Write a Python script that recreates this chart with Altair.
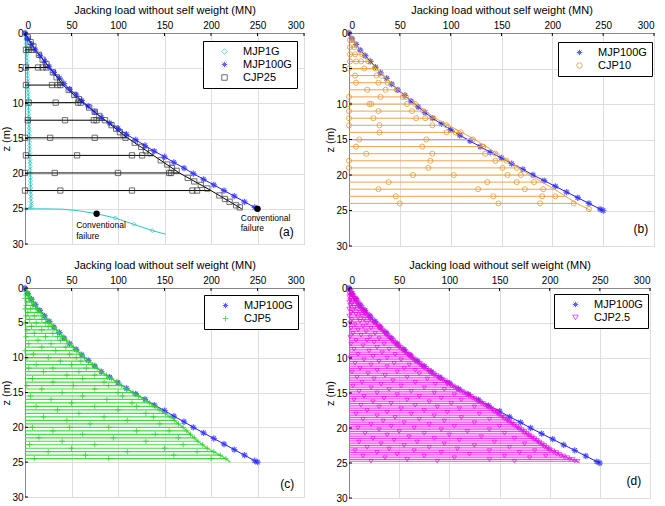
import altair as alt
import pandas as pd

FONT = "Liberation Sans"
X_TICKS = [0, 50, 100, 150, 200, 250, 300]
Z_TICKS = [0, 5, 10, 15, 20, 25, 30]
X_TITLE = "Jacking load without self weight (MN)"
Z_TITLE = "z (m)"

ASTERISK = "M-1,0L1,0M0,-1L0,1M-0.7,-0.7L0.7,0.7M-0.7,0.7L0.7,-0.7"
PLUS = "M-1,0L1,0M0,-1L0,1"

# ---------------- MJP100G (monotonic jacking, reference curve) ----------------
MJP100G_Z = [0, 0.8, 1.6, 2.4, 3.2, 4.0, 4.8, 5.6, 6.4, 7.2, 8.0, 8.8, 9.6, 10.4, 11.2,
             12.0, 12.8, 13.6, 14.4, 15.2, 16.0, 16.8, 17.6, 18.4, 19.2, 20.0, 20.8,
             21.6, 22.4, 23.2, 24.0, 24.8, 25.0]
MJP100G_X = [0, 3, 7, 11, 16, 21, 26, 31, 37, 42, 48, 55, 61, 68, 75,
             82, 91, 100, 109, 119, 129, 139, 150, 160, 171, 181, 192,
             203, 214, 225, 236, 247, 250]

# ---------------- MJP1G ----------------
MJP1G_Z = [0, 0.5, 1.0, 1.5, 2.0, 2.5, 3.0, 3.5, 4.0, 4.5, 5.0, 5.5, 6.0, 6.5, 7.0, 7.5,
           8.0, 8.5, 9.0, 9.5, 10.0, 10.5, 11.0, 11.5, 12.0, 12.5, 13.0, 13.5, 14.0, 14.5,
           15.0, 15.5, 16.0, 16.5, 17.0, 17.5, 18.0, 18.5, 19.0, 19.5, 20.0, 20.5, 21.0,
           21.5, 22.0, 22.5, 23.0, 23.5, 24.0, 24.5, 24.8]
MJP1G_X = [0, 0.6, 1.0, 1.3, 1.5, 1.7, 1.9, 2.0, 2.2, 2.3, 2.5, 2.6, 2.7, 2.9, 3.0, 3.1,
           3.2, 3.3, 3.5, 3.6, 3.7, 3.8, 3.9, 4.0, 4.1, 4.2, 4.3, 4.4, 4.5, 4.6,
           4.7, 4.8, 4.9, 5.0, 5.1, 5.2, 5.3, 5.4, 5.5, 5.6, 5.7, 5.8, 5.9,
           6.0, 6.1, 6.2, 6.3, 6.4, 6.5, 6.6, 6.7]
MJP1G_TAIL_Z = [25.0, 25.0, 25.05, 25.3, 25.7, 26.3, 27.2, 28.1, 28.6]
MJP1G_TAIL_X = [1, 20, 41, 59, 77, 97, 117, 137, 151]
MJP1G_TAIL_MARK_Z = [25.0, 26.3, 27.2, 28.1]
MJP1G_TAIL_MARK_X = [1, 97, 117, 137]

FAIL_X = [77, 250]
FAIL_Z = [25.7, 25.0]
NOTE_X = [55, 55, 232, 232]
NOTE_Z = [27.3, 28.9, 26.3, 27.7]
NOTE_T = ["Conventional", "failure", "Conventional", "failure"]

# ---------------- CJP25 ----------------
CJP25_ROW_Z = [0, 2.4, 4.9, 7.4, 9.9, 12.4, 14.9, 17.4, 19.9, 22.4]
CJP25_ROW_END = [0, 11, 26, 41, 62, 86, 110, 138, 166, 200]
CJP25_FINAL = (233, 25.0)
CJP25_ROW_MARKS = [[], [1, 4, 8], [1, 14, 19, 23], [1, 29, 35, 38], [4, 33, 57, 60],
                   [3, 43, 74, 77, 86], [0, 27, 75, 108], [1, 56, 115, 126],
                   [0, 32, 100, 155, 157], [0, 38, 115, 180, 185]]
CJP25_DIAG_X = [3, 6, 9, 15, 19, 23, 30, 34, 38, 47, 53, 58, 69, 75, 80,
                93, 98, 102, 106, 118, 125, 130, 135, 146, 153, 158, 163,
                175, 182, 189, 196, 209, 215, 220, 227, 231]
CJP25_DIAG_Z = [0.6, 1.3, 1.9, 3.1, 3.8, 4.4, 5.6, 6.3, 6.9, 8.1, 8.8, 9.4, 10.6, 11.2, 11.8,
                13.1, 13.6, 14.1, 14.5, 15.6, 16.2, 16.7, 17.1, 18.1, 18.7, 19.2, 19.6,
                20.6, 21.1, 21.6, 22.1, 23.1, 23.6, 24.0, 24.5, 24.8]

# ---------------- CJP10 ----------------
CJP10_ROW_Z = [0, 1, 2, 3, 4, 5, 6, 7, 8, 9, 10, 11, 12, 13, 14, 15, 16, 17, 18, 19, 20,
               21, 22, 23, 24]
CJP10_ROW_END = [0, 4, 9, 14, 20, 27, 34, 41, 49, 57, 66, 75, 85, 98, 111, 124, 135, 146,
                 157, 167, 178, 190, 202, 213, 224]
CJP10_FINAL = (238, 25.0)
CJP10_ROW_MARKS = [[0], [1, 3], [1, 5], [1, 6, 13], [1, 7, 12, 19], [0, 15, 26], [6, 27, 32],
                   [7, 29, 38], [18, 36, 47], [0, 31, 53, 56], [0, 20, 22, 57, 65],
                   [0, 29, 62, 73], [0, 24, 66, 75, 83], [0, 30, 82, 96], [30, 96, 105, 110],
                   [10, 76, 122], [7, 72, 132], [17, 82, 134, 144], [0, 80, 144, 155],
                   [0, 78, 151, 165], [63, 103, 156, 169], [39, 136, 165, 182],
                   [29, 127, 173, 191], [46, 142, 190, 203], [50, 147, 188, 221]]
CJP10_END_MARK = (236, 24.8)

# ---------------- CJP5 ----------------
CJP5_ROW_Z = [0, 0.5, 1.0, 1.5, 2.0, 2.5, 3.0, 3.5, 4.0, 4.5, 5.0, 5.5, 6.0, 6.5, 7.0, 7.5,
              8.0, 8.5, 9.0, 9.5, 10.0, 10.5, 11.0, 11.5, 12.0, 12.5, 13.0, 13.5, 14.0, 14.5,
              15.0, 15.5, 16.0, 16.5, 17.0, 17.5, 18.0, 18.5, 19.0, 19.5, 20.0, 20.5, 21.0,
              21.5, 22.0, 22.5, 23.0, 23.5, 24.0, 24.5]
CJP5_ROW_END = [0, 2, 4, 6.5, 9, 11.5, 14, 17, 20, 23.5, 27, 30.5, 34, 37.5, 41, 44.5, 48, 52,
                56, 60, 64, 68.5, 73, 77.5, 82, 87.5, 93, 98.5, 104, 110, 116, 122, 128, 134,
                140, 145, 151, 156, 161, 165, 170, 174, 178, 182, 186, 191, 196, 203, 210, 216]
CJP5_FINAL = (221, 25.0)
CJP5_ROW_MARKS = [[], [0], [1, 3], [0, 4], [2, 7], [1, 8], [0, 6, 12], [3, 14], [1, 10], [5, 18],
                  [0, 12, 22], [7, 25], [2, 18], [10, 30], [1, 22, 35], [14, 38], [4, 28],
                  [18, 44], [0, 33], [9, 48], [2, 25, 55], [38, 60], [12, 50], [4, 30, 66],
                  [20, 58], [45, 75], [8, 62], [30, 85], [2, 52, 90], [18, 75], [40, 100],
                  [6, 62, 105], [28, 88], [50, 115], [12, 75, 120], [35, 100], [58, 130],
                  [20, 85, 138], [45, 110], [70, 145], [8, 48, 90], [30, 120, 155], [62, 140],
                  [15, 95, 165], [40, 130], [5, 75, 170], [50, 150], [25, 110, 185], [65, 160],
                  [10, 90, 200]]

# ---------------- CJP2.5 ----------------
CJP2_ROW_Z = [0, 0.25, 0.5, 0.75, 1.0, 1.25, 1.5, 1.75, 2.0, 2.25, 2.5, 2.75, 3.0, 3.25, 3.5,
              3.75, 4.0, 4.25, 4.5, 4.75, 5.0, 5.25, 5.5, 5.75, 6.0, 6.25, 6.5, 6.75, 7.0,
              7.25, 7.5, 7.75, 8.0, 8.25, 8.5, 8.75, 9.0, 9.25, 9.5, 9.75, 10.0, 10.25, 10.5,
              10.75, 11.0, 11.25, 11.5, 11.75, 12.0, 12.25, 12.5, 12.75, 13.0, 13.25, 13.5,
              13.75, 14.0, 14.25, 14.5, 14.75, 15.0, 15.25, 15.5, 15.75, 16.0, 16.25, 16.5,
              16.75, 17.0, 17.25, 17.5, 17.75, 18.0, 18.25, 18.5, 18.75, 19.0, 19.25, 19.5,
              19.75, 20.0, 20.25, 20.5, 20.75, 21.0, 21.25, 21.5, 21.75, 22.0, 22.25, 22.5,
              22.75, 23.0, 23.25, 23.5, 23.75, 24.0, 24.25, 24.5, 24.75]
CJP2_ROW_END = [0, 1, 2, 3, 4, 5, 6.5, 8, 9, 10, 11.5, 13, 14, 15.5, 17, 18.5, 20, 22, 23.5,
                25, 27, 29, 30.5, 32, 34, 36, 37.5, 39, 41, 43, 44.5, 46, 48, 50, 52, 54, 56,
                58, 60, 62, 64, 66, 68.5, 71, 73, 75, 77.5, 80, 82, 85, 87.5, 90, 93, 96,
                98.5, 101, 104, 107, 110, 113, 116, 119, 122, 125, 128, 131, 134, 137, 140,
                142.5, 145, 147.5, 150, 152.5, 155, 157.5, 160, 162.5, 165, 167.5, 170,
                172.5, 175, 177.5, 180, 182.5, 185, 187.5, 190, 192.5, 195, 197.5, 200,
                203, 207, 210, 214, 218, 223, 228]
CJP2_FINAL = (230, 25.0)
CJP2_ROW_MARKS = [[], [0], [1], [0, 2], [1, 3], [0, 4], [2, 5], [1, 6], [0, 4, 7], [3, 8],
                  [1, 9], [5, 11], [0, 8, 12], [4, 13], [2, 11, 15], [7, 16], [0, 13, 18],
                  [9, 20], [3, 15, 21], [11, 23], [1, 18, 25], [6, 27], [14, 29],
                  [2, 22, 30], [9, 32], [17, 34], [4, 26, 36], [12, 37], [1, 21, 39],
                  [30, 41], [7, 18, 43], [25, 44], [2, 35, 46], [14, 48], [28, 50],
                  [5, 40, 52], [20, 54], [33, 56], [9, 46, 58], [24, 60], [1, 38, 62],
                  [15, 52, 64], [30, 66], [6, 45, 69], [22, 60, 71], [38, 73], [11, 55, 75],
                  [28, 66, 78], [3, 48, 80], [19, 70, 83], [36, 85], [8, 58, 88],
                  [25, 78, 91], [44, 94], [13, 66, 97], [32, 86, 98], [4, 52, 102],
                  [22, 75, 105], [40, 95, 108], [10, 62, 111], [28, 85, 114],
                  [48, 105, 117], [15, 70, 120], [35, 92, 123], [5, 58, 112, 126],
                  [24, 80, 129], [42, 102, 132], [12, 66, 135], [30, 88, 125, 138],
                  [52, 110, 140], [18, 75, 143], [38, 98, 145], [7, 62, 130, 148],
                  [28, 85, 150], [46, 112, 153], [14, 70, 140, 155], [34, 95, 158],
                  [55, 125, 160], [22, 80, 163], [42, 105, 150, 165], [9, 65, 168],
                  [30, 92, 140, 170], [50, 118, 173], [16, 75, 155, 175], [38, 100, 178],
                  [60, 132, 180], [24, 85, 165, 183], [45, 110, 185], [10, 68, 145, 188],
                  [32, 95, 175, 190], [55, 125, 193], [18, 80, 160, 195], [40, 108, 198],
                  [6, 65, 140, 185, 200], [28, 92, 170, 204], [48, 120, 207],
                  [14, 75, 155, 196, 211], [36, 105, 180, 215], [58, 140, 220],
                  [22, 88, 165, 225]]

PANEL_LABELS = ["(a)", "(b)", "(c)", "(d)"]
PANEL_LABEL_X = [281, 287, 282, 284]
PANEL_LABEL_Z = [28.3, 27.6, 28.1, 27.6]

# ---------------- colours ----------------
C_CYAN = "#2cc6c6"
C_BLUE = "#1e1eff"
C_BLACK = "#000000"
C_SQ = "#333333"
C_ORANGE_L = "#eba64a"
C_ORANGE = "#e38c22"
C_GREEN_L = "#3ee03e"
C_GREEN = "#22cc22"
C_MAG_L = "#ff3cff"
C_MAG = "#e010e0"


def X():
    return alt.X("x:Q", scale=alt.Scale(domain=[0, 300], nice=False, zero=False),
                 axis=alt.Axis(orient="top", values=X_TICKS, title=X_TITLE,
                               titleFontWeight="normal", ticks=False, tickSize=0,
                               labelPadding=3, titlePadding=5))


def Y():
    return alt.Y("z:Q", scale=alt.Scale(domain=[0, 30], reverse=True, nice=False, zero=False),
                 axis=alt.Axis(values=Z_TICKS, title=Z_TITLE, titleFontWeight="normal",
                               ticks=False, tickSize=0, labelPadding=2, titlePadding=0))


def rows_df(row_z, row_end, final):
    recs = []
    n = len(row_z)
    for i in range(n):
        nx, nz = (row_end[i + 1], row_z[i + 1]) if i + 1 < n else final
        recs.append({"g": i, "o": 0, "x": 0, "z": row_z[i]})
        recs.append({"g": i, "o": 1, "x": row_end[i], "z": row_z[i]})
        recs.append({"g": i, "o": 2, "x": nx, "z": nz})
    return pd.DataFrame(recs)


def marks_df(row_z, marks, series):
    return pd.DataFrame([{"x": m, "z": row_z[i], "s": series}
                         for i, ms in enumerate(marks) for m in ms])


def legend(lx, ly):
    return alt.Legend(title=None, orient="none", legendX=lx, legendY=ly,
                      strokeColor="black", fillColor="white", padding=5,
                      labelFont=FONT, labelFontSize=11, labelColor="black",
                      symbolOffset=11, labelOffset=13, rowPadding=1, symbolSize=30,
                      symbolStrokeWidth=1)


def pts(df, dom, cols, shapes, leg, size, sw=1.0):
    return alt.Chart(df).mark_point(filled=False, size=size, strokeWidth=sw).encode(
        x=X(), y=Y(),
        color=alt.Color("s:N", scale=alt.Scale(domain=dom, range=cols), legend=leg),
        shape=alt.Shape("s:N", scale=alt.Scale(domain=dom, range=shapes), legend=leg),
    )


def paths(df, color, sw=1.0):
    return alt.Chart(df).mark_line(color=color, strokeWidth=sw).encode(
        x=X(), y=Y(), detail="g:N", order="o:Q")


def mjp100g_layers(dom, cols, shapes, leg):
    df = pd.DataFrame({"x": MJP100G_X, "z": MJP100G_Z, "o": list(range(len(MJP100G_X)))})
    line = alt.Chart(df).mark_line(color=C_BLUE, strokeWidth=1).encode(x=X(), y=Y(), order="o:Q")
    dfp = df.assign(s="MJP100G")
    p = pts(dfp, dom, cols, shapes, leg, 40, 1.2)
    return [line, p]


def frame_layers(idx):
    tx = alt.Chart(pd.DataFrame({"x": X_TICKS})).mark_rule(color="black").encode(
        x=X(), y=alt.value(0), y2=alt.value(3))
    tz = alt.Chart(pd.DataFrame({"z": Z_TICKS})).mark_rule(color="black").encode(
        y=Y(), x=alt.value(0), x2=alt.value(3))
    lab = alt.Chart(pd.DataFrame({"x": [PANEL_LABEL_X[idx]], "z": [PANEL_LABEL_Z[idx]],
                                  "t": [PANEL_LABELS[idx]]})).mark_text(
        font=FONT, fontSize=12, color="black").encode(x=X(), y=Y(), text="t:N")
    return [tx, tz, lab]


# ---------- panel (a) ----------
dom_a = ["MJP1G", "MJP100G", "CJP25"]
cols_a = [C_CYAN, C_BLUE, C_SQ]
shp_a = ["diamond", ASTERISK, "square"]
leg_a = legend(178, 8)
mjp1_line_df = pd.DataFrame({"x": MJP1G_X + MJP1G_TAIL_X, "z": MJP1G_Z + MJP1G_TAIL_Z,
                             "o": list(range(len(MJP1G_X) + len(MJP1G_TAIL_X)))})
mjp1_line = alt.Chart(mjp1_line_df).mark_line(color=C_CYAN, strokeWidth=1).encode(
    x=X(), y=Y(), order="o:Q")
mjp1_pts = pts(pd.DataFrame({"x": MJP1G_X + MJP1G_TAIL_MARK_X,
                             "z": MJP1G_Z + MJP1G_TAIL_MARK_Z, "s": "MJP1G"}),
               dom_a, cols_a, shp_a, leg_a, 18)
c25_lines = paths(rows_df(CJP25_ROW_Z, CJP25_ROW_END, CJP25_FINAL), C_BLACK)
c25_marks = pd.concat([marks_df(CJP25_ROW_Z, CJP25_ROW_MARKS, "CJP25"),
                       pd.DataFrame({"x": CJP25_DIAG_X, "z": CJP25_DIAG_Z, "s": "CJP25"})])
c25_pts = pts(c25_marks, dom_a, cols_a, shp_a, leg_a, 28)
fail = alt.Chart(pd.DataFrame({"x": FAIL_X, "z": FAIL_Z})).mark_point(
    filled=True, color="black", size=40, opacity=1).encode(x=X(), y=Y())
notes = alt.Chart(pd.DataFrame({"x": NOTE_X, "z": NOTE_Z, "t": NOTE_T})).mark_text(
    font=FONT, fontSize=8.5, align="left", color="black").encode(x=X(), y=Y(), text="t:N")
panel_a = alt.layer(mjp1_line, mjp1_pts, c25_lines, c25_pts,
                    *mjp100g_layers(dom_a, cols_a, shp_a, leg_a), fail, notes,
                    *frame_layers(0)).properties(width=279, height=211)

# ---------- panel (b) ----------
dom_b = ["MJP100G", "CJP10"]
cols_b = [C_BLUE, C_ORANGE]
shp_b = [ASTERISK, "circle"]
leg_b = legend(209, 9)
c10_lines = paths(rows_df(CJP10_ROW_Z, CJP10_ROW_END, CJP10_FINAL), C_ORANGE_L)
c10_marks = pd.concat([marks_df(CJP10_ROW_Z, CJP10_ROW_MARKS, "CJP10"),
                       pd.DataFrame({"x": [CJP10_END_MARK[0]], "z": [CJP10_END_MARK[1]],
                                     "s": ["CJP10"]})])
c10_pts = pts(c10_marks, dom_b, cols_b, shp_b, leg_b, 26)
panel_b = alt.layer(*mjp100g_layers(dom_b, cols_b, shp_b, leg_b), c10_lines, c10_pts,
                    *frame_layers(1)).properties(width=305, height=213)

# ---------- panel (c) ----------
dom_c = ["MJP100G", "CJP5"]
cols_c = [C_BLUE, C_GREEN]
shp_c = [ASTERISK, PLUS]
leg_c = legend(179, 7)
c5_lines = paths(rows_df(CJP5_ROW_Z, CJP5_ROW_END, CJP5_FINAL), C_GREEN_L, 1.2)
c5_marks = pd.concat([marks_df(CJP5_ROW_Z, CJP5_ROW_MARKS, "CJP5"),
                      pd.DataFrame({"x": CJP5_ROW_END[1:], "z": CJP5_ROW_Z[1:], "s": "CJP5"})])
c5_pts = pts(c5_marks, dom_c, cols_c, shp_c, leg_c, 30)
panel_c = alt.layer(*mjp100g_layers(dom_c, cols_c, shp_c, leg_c), c5_lines, c5_pts,
                    *frame_layers(2)).properties(width=279, height=209)

# ---------- panel (d) ----------
dom_d = ["MJP100G", "CJP2.5"]
cols_d = [C_BLUE, C_MAG]
shp_d = [ASTERISK, "triangle-down"]
leg_d = legend(205, 6)
c2_lines = paths(rows_df(CJP2_ROW_Z, CJP2_ROW_END, CJP2_FINAL), C_MAG_L)
c2_marks = pd.concat([marks_df(CJP2_ROW_Z, CJP2_ROW_MARKS, "CJP2.5"),
                      pd.DataFrame({"x": CJP2_ROW_END[1:], "z": CJP2_ROW_Z[1:], "s": "CJP2.5"})])
c2_pts = pts(c2_marks, dom_d, cols_d, shp_d, leg_d, 18)
panel_d = alt.layer(*mjp100g_layers(dom_d, cols_d, shp_d, leg_d), c2_lines, c2_pts,
                    *frame_layers(3)).properties(width=301, height=210)

IND = dict(x="independent", y="independent", color="independent", shape="independent")
row1 = alt.hconcat(panel_a, panel_b, spacing=19).resolve_scale(**IND)
row2 = alt.hconcat(panel_c, panel_d, spacing=19).resolve_scale(**IND)
chart = alt.vconcat(row1, row2, spacing=6).resolve_scale(**IND).properties(
    padding={"left": 0, "top": 3, "right": 0, "bottom": 0}
).configure_axis(
    labelFont=FONT, titleFont=FONT, labelFontSize=11, titleFontSize=11,
    titleFontWeight="normal", domainColor="black", labelColor="black",
    titleColor="black", grid=False, ticks=False, labelFlush=False, domainWidth=1
).configure_view(strokeWidth=0).configure(background="white")

chart.save("out.html", embed_options={"renderer": "svg", "actions": False})
